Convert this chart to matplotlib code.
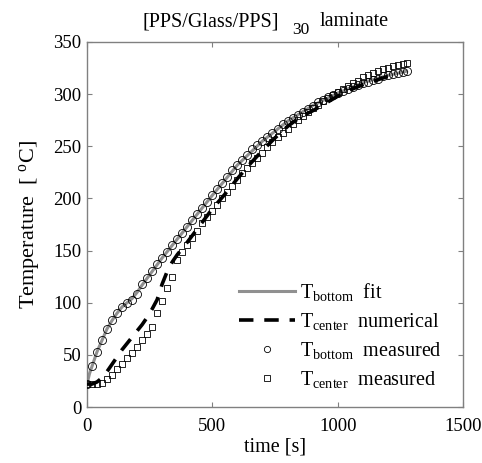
import matplotlib
matplotlib.use("Agg")
import matplotlib.pyplot as plt

plt.rcParams['font.family'] = ['Liberation Serif', 'DejaVu Serif']
plt.rcParams['mathtext.fontset'] = 'custom'
plt.rcParams['mathtext.rm'] = 'Liberation Serif'
plt.rcParams['mathtext.it'] = 'Liberation Serif'

# measured bottom temperature (circles)
t_bottom = [0, 20, 40, 60, 80, 100, 120, 140, 160, 180, 200, 220, 240, 260, 280, 300,
            320, 340, 360, 380, 400, 420, 440, 460, 480, 500, 520, 540, 560, 580, 600,
            620, 640, 660, 680, 700, 720, 740, 760, 780, 800, 820, 840, 860, 880, 900,
            920, 940, 960, 980, 1000, 1020, 1040, 1060, 1080, 1100, 1120, 1140, 1160,
            1180, 1200, 1220, 1240, 1260, 1275]
T_bottom = [22, 39, 53, 64, 75, 83, 90, 96, 100, 103, 108, 118, 124, 130, 137, 143,
            149, 155, 161, 167, 173, 179, 185, 191, 197, 203, 209, 215, 221, 227, 232,
            237, 242, 247, 251, 255, 259, 263, 267, 271, 274, 277, 280, 283, 286, 289,
            292, 294, 297, 299, 301, 303, 305, 307, 309, 311, 312, 314, 315,
            317, 318, 319, 320, 321, 322]

# measured center temperature (squares)
t_center = t_bottom
T_center = [22, 22, 22, 23, 27, 31, 36, 41, 47, 52, 58, 64, 70, 77, 90, 102,
            114, 125, 141, 149, 155, 162, 169, 176, 182, 188, 194, 200, 206, 212, 218,
            224, 229, 234, 239, 244, 249, 254, 259, 263, 267, 271, 275, 279, 283, 287,
            290, 293, 296, 299, 302, 305, 308, 311, 313, 316, 318, 320, 322,
            324, 325, 327, 328, 329, 330]

# fit of bottom temperature (solid gray line)
t_fit = [0, 10, 20, 40, 60, 80, 100, 120, 140, 160, 180, 200, 220, 260, 300, 400, 500,
         600, 700, 800, 900, 1000, 1100, 1200, 1275]
T_fit = [22, 32, 39, 53, 64, 75, 83, 90, 96, 100, 104, 110, 117, 130, 143, 173, 203,
         232, 255, 274, 289, 301, 311, 318, 322]

# numerical center temperature (dashed line)
t_num = [0, 20, 40, 60, 80, 100, 120, 140, 160, 180, 200, 220, 240, 260, 280, 300, 320,
         340, 360, 380, 400, 450, 500, 550, 600, 650, 700, 750, 800, 850, 900, 950,
         1000, 1050, 1100, 1150, 1200]
T_num = [22, 22, 24, 28, 34, 41, 48, 55, 61, 67, 73, 79, 86, 94, 103, 118, 130,
         139, 146, 152, 158, 174, 190, 204, 219, 233, 246, 258, 269, 278, 284, 291,
         298, 304, 309, 313, 317]

W, H = 482, 463
fig = plt.figure(figsize=(W / 100, H / 100), dpi=100)
ax = fig.add_axes([87 / W, 1 - 407 / H, (463 - 87) / W, (407 - 42) / H])

ax.plot(t_fit, T_fit, color='#909090', lw=2.2, label=r'$\mathregular{T_{bottom}}$  fit', zorder=2)
ax.plot(t_num, T_num, color='black', lw=2.6, ls=(0, (4, 3)),
        label=r'$\mathregular{T_{center}}$  numerical', zorder=3)
ax.plot(t_bottom, T_bottom, ls='none', marker='o', ms=5.8, mfc='none', mec='black',
        mew=0.6, label=r'$\mathregular{T_{bottom}}$  measured', zorder=4)
ax.plot(t_center, T_center, ls='none', marker='s', ms=4.8, mfc='none', mec='black',
        mew=0.6, label=r'$\mathregular{T_{center}}$  measured', zorder=4)

ax.set_xlim(0, 1500)
ax.set_ylim(0, 350)
ax.set_xticks([0, 500, 1000, 1500])
ax.set_yticks(range(0, 351, 50))
ax.tick_params(direction='in', length=3.5, width=0.8, color='#808080', labelsize=13.5,
               top=True, right=True)
ax.tick_params(axis='x', pad=8)
ax.tick_params(axis='y', pad=4)
for s in ax.spines.values():
    s.set_color('#808080')
    s.set_linewidth(1.0)

ax.set_xlabel('time [s]', fontsize=14.5, labelpad=2)
ax.set_ylabel(r'Temperature  [ $\mathregular{^{o}}$C]', fontsize=16, labelpad=8)

# title: "[PPS/Glass/PPS]" with a large subscript "30", then "laminate"
fig.text(143 / W, 1 - 26 / H, '[PPS/Glass/PPS]', fontsize=14.5, ha='left', va='baseline')
fig.text(292 / W, 1 - 34 / H, '30', fontsize=12.5, ha='left', va='baseline')
fig.text(320 / W, 1 - 26 / H, 'laminate', fontsize=14.5, ha='left', va='baseline')

leg = ax.legend(loc='lower right', frameon=False, fontsize=14.5, handlelength=2.75,
                handletextpad=0.25, labelspacing=0.4, borderaxespad=0.2,
                bbox_to_anchor=(0.975, 0.013))
for h in leg.legend_handles[2:]:
    h.set_markersize(4.5)

fig.savefig('out.png', dpi=100)
